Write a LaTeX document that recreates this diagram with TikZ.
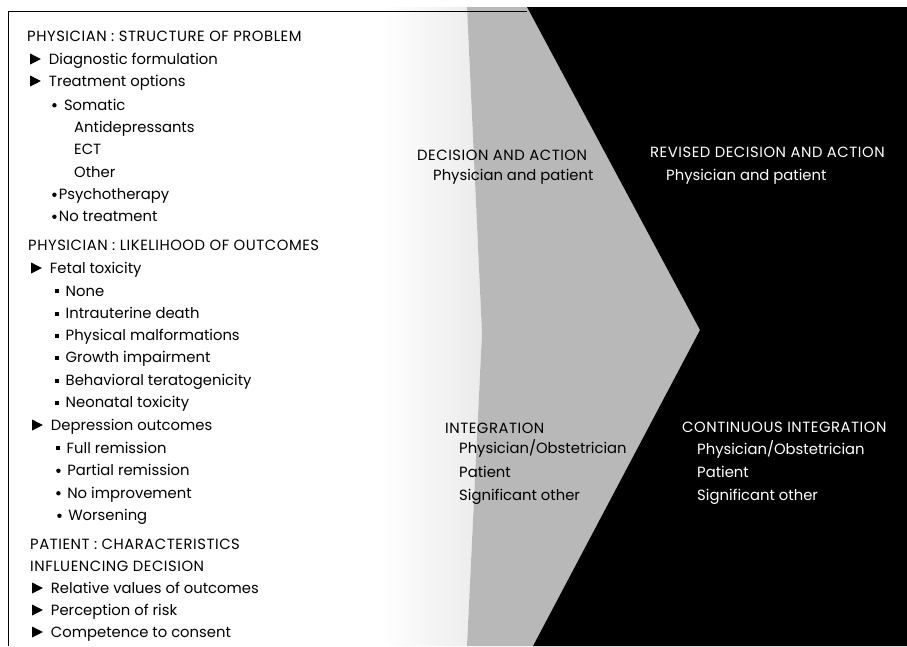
\documentclass[tikz,border=0pt]{standalone}
\usepackage{fontspec}
\setmainfont{Poppins}
\newfontfamily\capsfont[LetterSpace=3.6]{Poppins}
\newcommand{\tri}{\tikz[baseline=0pt]\fill (0,0) -- (0,0.74em) -- (0.72em,0.37em) -- cycle;\hspace{0.55em}}
\newcommand{\sqb}[1][0.45em]{\tikz[baseline=-0.32em]\fill (0,-0.13em) rectangle (0.26em,0.13em);\hspace{#1}}
\newcommand{\rdb}[1][0.5em]{\tikz[baseline=-0.32em]\fill (0,0) circle (0.15em);\hspace{#1}}

\begin{document}
\begin{tikzpicture}[x=1pt,y=-1pt,
  txt/.style={anchor=base west,inner sep=0pt,font=\fontsize{14.8}{17}\selectfont},
  hdr/.style={txt,font=\capsfont\fontsize{14.8}{17}\selectfont},
  inv/.style={txt,text=white},
  invhdr/.style={hdr,text=white}]
  \useasboundingbox (0,0) rectangle (907,646);
  % bands behind the text
  \shade[left color=white,right color=black!8] (380,7) -- (467,7) -- (482,333) -- (467,646) -- (380,646) -- cycle;
  \fill[black!28] (467,7) -- (527,7) -- (700,330) -- (533,646) -- (467,646) -- (482,333) -- cycle;
  \fill[black] (527,7) -- (907,7) -- (907,646) -- (533,646) -- (700,330) -- cycle;
  \draw[line width=1pt] (8,646) -- (8,11) -- (527,11);

  % physician: structure
  \node[hdr] (struct) at (27,41.5) {PHYSICIAN : STRUCTURE OF PROBLEM};
  \node[txt] (diag)   at (30,64.5) {\tri Diagnostic formulation};
  \node[txt] (treat)  at (30,86.5) {\tri Treatment options};
  \node[txt] (soma)   at (52,110) {\rdb Somatic};
  \node[txt] (antid)  at (74,132) {Antidepressants};
  \node[txt] (ect)    at (74,154.5) {ECT};
  \node[txt] (other)  at (74,177) {Other};
  \node[txt] (psych)  at (52,199.5) {\rdb[0.15em]Psychotherapy};
  \node[txt] (notr)   at (52,221.5) {\rdb[0.15em]No treatment};

  % physician: outcomes
  \node[hdr] (likely) at (28,250.5) {PHYSICIAN : LIKELIHOOD OF OUTCOMES};
  \node[txt] (fetal)  at (31,273.5) {\tri Fetal toxicity};
  \node[txt] (none)   at (55,296) {\sqb None};
  \node[txt] (death)  at (55,318.5) {\sqb Intrauterine death};
  \node[txt] (malf)   at (55,340.5) {\sqb Physical malformations};
  \node[txt] (growth) at (55,362.5) {\sqb Growth impairment};
  \node[txt] (terat)  at (55,385.5) {\sqb Behavioral teratogenicity};
  \node[txt] (neon)   at (55,407.5) {\sqb Neonatal toxicity};
  \node[txt] (depr)   at (32,430.5) {\tri Depression outcomes};
  \node[txt] (full)   at (56,453) {\sqb Full remission};
  \node[txt] (part)   at (56,475.5) {\rdb[0.45em]Partial remission};
  \node[txt] (noimp)  at (56,498) {\rdb[0.45em]No improvement};
  \node[txt] (worse)  at (57,520.5) {\rdb[0.45em]Worsening};

  % patient
  \node[hdr] (pat)    at (30,549.5) {PATIENT : CHARACTERISTICS};
  \node[hdr] (infl)   at (30,571.5) {INFLUENCING DECISION};
  \node[txt] (relv)   at (32,593.5) {\tri Relative values of outcomes};
  \node[txt] (risk)   at (32,615.5) {\tri Perception of risk};
  \node[txt] (cons)   at (32,637.5) {\tri Competence to consent};

  % gray band
  \node[hdr] (dec)    at (417,160.5) {DECISION AND ACTION};
  \node[txt] (decw)   at (433,180.5) {Physician and patient};
  \node[hdr] (integ)  at (445,433.5) {INTEGRATION};
  \node[txt] (ipo)    at (459,453.5) {Physician/Obstetrician};
  \node[txt] (ipat)   at (459,477.5) {Patient};
  \node[txt] (isig)   at (459,500.5) {Significant other};

  % black band
  \node[invhdr] (rev) at (650,157.5) {REVISED DECISION AND ACTION};
  \node[inv] (revw)   at (666,180.5) {Physician and patient};
  \node[invhdr] (cont) at (682,432.5) {CONTINUOUS INTEGRATION};
  \node[inv] (cpo)    at (697,454.5) {Physician/Obstetrician};
  \node[inv] (cpat)   at (697,477.5) {Patient};
  \node[inv] (csig)   at (697,500.5) {Significant other};
\end{tikzpicture}
\end{document}
